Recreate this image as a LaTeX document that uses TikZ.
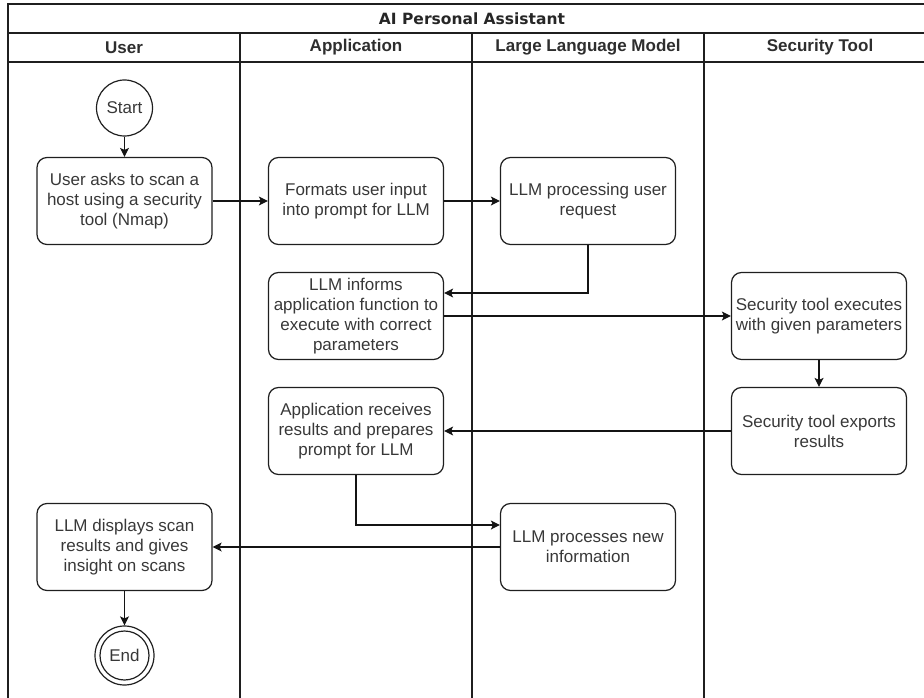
\documentclass[tikz,border=0pt]{standalone}
\usepackage{fontspec}
\setmainfont{Liberation Sans}
\newfontfamily\titlefont{DejaVu Sans}
\usetikzlibrary{arrows.meta,calc}

\tikzset{
  lane/.style={draw=black!88, line width=1.3pt},
  stepbox/.style={draw=black!88, line width=1.2pt, rounded corners=10pt,
    minimum width=175pt, minimum height=87pt, inner sep=0pt, align=center,
    text=black!78, font=\fontsize{17}{20}\selectfont},
  terminal/.style={draw=black!88, line width=1.2pt, circle, minimum size=56pt,
    inner sep=0pt, text=black!78, font=\fontsize{17}{20}\selectfont},
  flow/.style={draw=black!92, line width=1.2pt,
    -{Stealth[length=9pt,width=9pt,inset=2pt]}},
  lanehead/.style={text=black!82, font=\bfseries\fontsize{17}{20}\selectfont},
}

\begin{document}
\begin{tikzpicture}[x=1pt,y=-1pt]
  \useasboundingbox (0,0) rectangle (924,698);
  \clip (0,0) rectangle (924,698);

  % pool frame, title row and lane header row
  \draw[lane] (8,4) rectangle (936,712);
  \draw[lane] (8,33) -- (936,33);
  \draw[lane] (8,62) -- (936,62);
  \foreach \xx in {240,472,704} {
    \draw[lane] (\xx,33) -- (\xx,712);
  }

  \node[text=black!85, font=\titlefont\bfseries\fontsize{15.5}{18}\selectfont]
    (title) at (472,18.5) {AI Personal Assistant};
  \node[lanehead] (hUser) at (124,47.5) {User};
  \node[lanehead] (hApp)  at (356,47.5) {Application};
  \node[lanehead] (hLLM)  at (588,47.5) {Large Language Model};
  \node[lanehead] (hSec)  at (820,47.5) {Security Tool};

  % activities
  \node[terminal] (start) at (124.5,108) {Start};
  \node[stepbox] (ask)  at (124.5,201) {User asks to scan a\\host using a security\\tool (Nmap)};
  \node[stepbox] (fmt)  at (356,201)   {Formats user input\\into prompt for LLM};
  \node[stepbox] (proc) at (588,201)   {LLM processing user\\request};
  \node[stepbox] (inf)  at (356,316)   {LLM informs\\application function to\\execute with correct\\parameters};
  \node[stepbox] (exe)  at (819,316)   {Security tool executes\\with given parameters};
  \node[stepbox] (rec)  at (356,431)   {Application receives\\results and prepares\\prompt for LLM};
  \node[stepbox] (exp)  at (819,431)   {Security tool exports\\results};
  \node[stepbox] (newi) at (588,547)   {LLM processes new\\information};
  \node[stepbox] (disp) at (124.5,547) {LLM displays scan\\results and gives\\insight on scans};
  \node[terminal, minimum size=59pt] (fin) at (124.5,655.5) {End};
  \draw[draw=black!88, line width=1.2pt] (fin.center) circle[radius=24.5];

  % control flow
  \draw[flow] (start) -- (ask);
  \draw[flow] (ask) -- (fmt);
  \draw[flow] (fmt) -- (proc);
  \draw[flow] (proc.south) |- ($(inf.east)+(0,-23)$);
  \draw[flow] (inf) -- (exe);
  \draw[flow] (exe) -- (exp);
  \draw[flow] (exp) -- (rec);
  \draw[flow] (rec.south) |- ($(newi.west)+(0,-22)$);
  \draw[flow] (newi) -- (disp);
  \draw[flow] (disp) -- (fin);
\end{tikzpicture}
\end{document}
